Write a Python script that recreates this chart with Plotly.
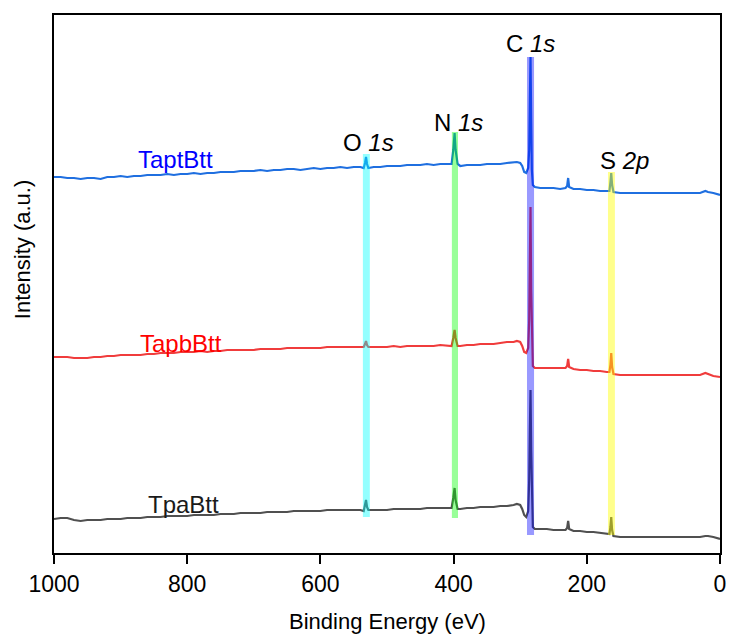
import plotly.graph_objects as go

# Binding energy grid (eV), shared by the three survey spectra
energy = [
    1000, 990, 980, 970, 960, 950, 940, 930, 920, 910,
    900, 890, 880, 870, 860, 850, 840, 830, 820, 810,
    800, 790, 780, 770, 760, 750, 740, 730, 720, 710,
    700, 690, 680, 670, 660, 650, 640, 630, 620, 610,
    600, 590, 580, 570, 560, 550, 540, 535, 533, 531.5,
    530, 528, 520, 510, 500, 490, 480, 470, 460, 450,
    440, 430, 420, 410, 403, 400.5, 398.5, 397, 394, 390,
    380, 370, 360, 350, 340, 330, 320, 310, 305, 300,
    297, 294, 291, 288, 286.5, 285.5, 284.5, 283.5, 282.5, 281,
    278, 270, 260, 250, 240, 232, 229.5, 228, 226.5, 220,
    210, 200, 190, 180, 170, 166, 164.5, 163.3, 162, 160,
    150, 140, 130, 120, 110, 100, 90, 80, 70, 60,
    50, 40, 30, 22, 18, 10, 0,
]

# Stacked intensities (a.u., offset included)
taptbtt = [
    376, 376, 375, 375, 374, 375, 375, 374, 376, 376,
    377, 376, 377, 377, 378, 378, 378, 379, 378, 379,
    379, 380, 379, 380, 380, 381, 381, 381, 382, 382,
    382, 383, 382, 383, 383, 384, 384, 383, 384, 385,
    384, 385, 385, 386, 385, 386, 386, 385, 390, 396,
    389, 385, 386, 386, 387, 387, 387, 388, 388, 388,
    389, 388, 389, 389, 389, 403, 420, 403, 389, 387,
    388, 388, 388, 389, 389, 389, 390, 391, 391, 390,
    387, 381, 380, 385, 403, 453, 496, 433, 383, 368,
    366, 365, 365, 365, 364, 365, 367, 375, 366, 364,
    364, 363, 363, 362, 362, 362, 371, 380, 368, 361,
    360, 360, 360, 360, 360, 360, 360, 360, 360, 360,
    360, 360, 360, 362, 361, 360, 358,
]

tapbbtt = [
    196, 196, 196, 195, 195, 195, 196, 196, 197, 197,
    198, 198, 198, 198, 199, 199, 200, 200, 200, 201,
    201, 201, 202, 201, 202, 202, 203, 203, 203, 203,
    203, 204, 204, 204, 204, 205, 205, 205, 205, 205,
    205, 206, 206, 206, 206, 206, 206, 206, 209, 212,
    208, 206, 206, 206, 206, 207, 206, 207, 207, 207,
    207, 207, 208, 207, 207, 215, 223, 215, 207, 207,
    208, 208, 209, 209, 209, 210, 211, 211, 212, 211,
    207, 201, 200, 205, 233, 293, 346, 263, 213, 187,
    185, 185, 185, 185, 185, 185, 187, 194, 186, 184,
    183, 183, 182, 182, 181, 181, 188, 200, 186, 179,
    178, 178, 178, 178, 178, 178, 178, 178, 178, 178,
    178, 178, 178, 180, 179, 177, 176,
]

tpabtt = [
    34, 35, 35, 33, 32, 33, 33, 33, 34, 34,
    34, 35, 35, 35, 36, 36, 36, 37, 37, 37,
    37, 38, 38, 38, 38, 39, 39, 39, 40, 40,
    40, 40, 41, 41, 41, 41, 42, 42, 42, 42,
    42, 43, 43, 43, 43, 43, 43, 42, 47, 53,
    46, 43, 43, 43, 43, 44, 44, 44, 44, 44,
    45, 45, 45, 45, 45, 55, 65, 53, 44, 44,
    45, 45, 46, 46, 46, 47, 47, 48, 49, 48,
    44, 38, 36, 42, 73, 123, 163, 103, 53, 26,
    24, 24, 24, 23, 23, 23, 25, 32, 24, 22,
    22, 21, 21, 20, 19, 19, 26, 36, 23, 17,
    16, 16, 16, 16, 16, 16, 16, 16, 16, 16,
    16, 16, 16, 17, 17, 16, 14,
]

sample_names = ["TaptBtt", "TapbBtt", "TpaBtt"]
line_colors = ["#1f6fe0", "#f03c3c", "#505050"]
label_colors = ["#0000ff", "#ff0000", "#1a1a1a"]

# Core-level peaks marked with a label and a translucent band
peak_names = ["O <i>1s</i>", "N <i>1s</i>", "C <i>1s</i>", "S <i>2p</i>"]
peak_centres = [531.0, 398.0, 284.5, 163.0]

FONT = "Arial, Liberation Sans, sans-serif"

fig = go.Figure()
for name, ys, col in zip(sample_names, [taptbtt, tapbbtt, tpabtt], line_colors):
    fig.add_trace(go.Scatter(
        x=energy, y=ys, mode="lines", name=name,
        line=dict(color=col, width=2.2), showlegend=False,
    ))

# Highlight bands: centre, half-width (eV), bottom, top, fill
band_specs = [
    (peak_centres[0], 5.2, 36, 399, "rgba(0,255,255,0.42)"),
    (peak_centres[1], 4.6, 35, 421, "rgba(0,255,0,0.40)"),
    (peak_centres[2], 5.3, 18, 496, "rgba(0,0,255,0.40)"),
    (peak_centres[3], 5.2, 18, 381, "rgba(255,255,0,0.45)"),
]
for c, hw, y0, y1, fill in band_specs:
    fig.add_shape(type="rect", xref="x", yref="y",
                  x0=c - hw, x1=c + hw, y0=y0, y1=y1,
                  fillcolor=fill, line=dict(width=0), layer="above")

# Peak labels
peak_label_pos = [(528.5, 411), (393, 431), (285, 510), (144, 393)]
for txt, (px, py) in zip(peak_names, peak_label_pos):
    fig.add_annotation(x=px, y=py, text=txt, showarrow=False,
                       font=dict(family=FONT, size=24, color="black"))

# Sample labels
sample_label_pos = [(817, 394), (809, 210), (805, 49)]
for txt, (px, py), col in zip(sample_names, sample_label_pos, label_colors):
    fig.add_annotation(x=px, y=py, text=txt, showarrow=False,
                       font=dict(family=FONT, size=24, color=col))

# Axis titles
fig.add_annotation(xref="paper", yref="paper", x=0.5, y=-0.128,
                   xanchor="center", yanchor="middle",
                   text="Binding Energy (eV)", showarrow=False,
                   font=dict(family=FONT, size=22, color="black"))
fig.add_annotation(xref="paper", yref="paper", x=-0.048, y=0.563,
                   xanchor="center", yanchor="middle",
                   text="Intensity (a.u.)", showarrow=False, textangle=-90,
                   font=dict(family=FONT, size=22, color="black"))

fig.update_layout(
    width=729, height=637,
    margin=dict(l=54, r=9, t=15, b=84),
    paper_bgcolor="white", plot_bgcolor="white",
    font=dict(family=FONT, color="black"),
    xaxis=dict(
        range=[1000, 0], tickvals=[1000, 800, 600, 400, 200, 0],
        ticks="outside", ticklen=9, tickwidth=1.5, tickcolor="black",
        tickfont=dict(family=FONT, size=23),
        showline=True, linewidth=2, linecolor="black", mirror=True,
        showgrid=False, zeroline=False, automargin=False,
    ),
    yaxis=dict(
        range=[0, 538], showticklabels=False, ticks="",
        showline=True, linewidth=2, linecolor="black", mirror=True,
        showgrid=False, zeroline=False, automargin=False,
    ),
)

fig.write_html("out.html")
